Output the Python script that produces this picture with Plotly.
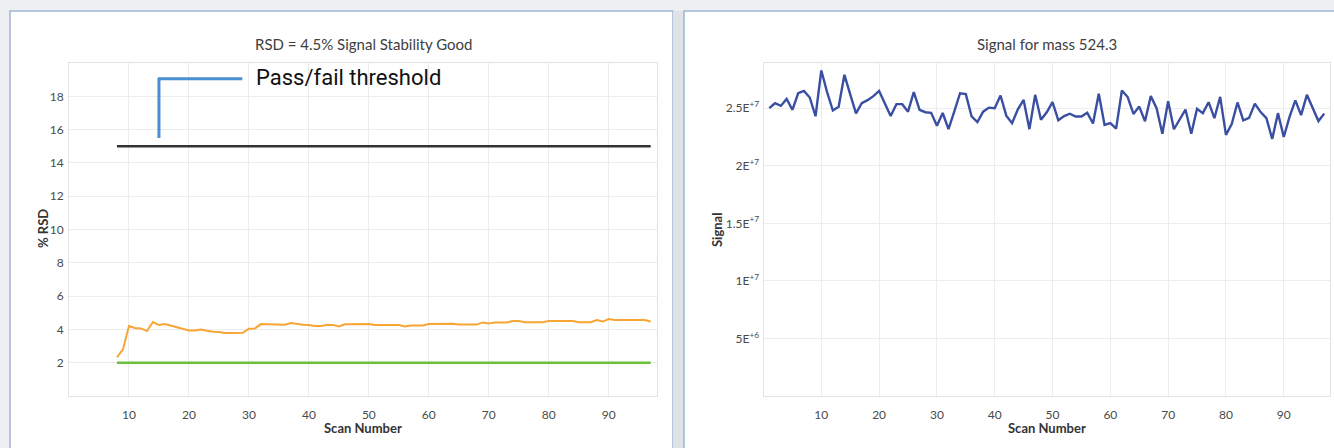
import plotly.graph_objects as go

# ---------------- data ----------------
rsd_scans = list(range(8, 98))
rsd_values = [2.32, 2.8, 4.2, 4.08, 4.06, 3.9, 4.44, 4.26, 4.32, 4.22,
              4.14, 4.02, 3.94, 3.93, 4.0, 3.92, 3.86, 3.85, 3.79, 3.79,
              3.79, 3.8, 4.04, 4.06, 4.32, 4.3, 4.29, 4.26, 4.28, 4.38,
              4.31, 4.28, 4.27, 4.2, 4.2, 4.27, 4.27, 4.18, 4.31, 4.32,
              4.32, 4.32, 4.32, 4.27, 4.26, 4.26, 4.26, 4.26, 4.17, 4.24,
              4.24, 4.24, 4.33, 4.34, 4.34, 4.34, 4.34, 4.29, 4.29, 4.29,
              4.29, 4.42, 4.35, 4.42, 4.42, 4.42, 4.5, 4.5, 4.43, 4.43,
              4.43, 4.43, 4.5, 4.5, 4.5, 4.5, 4.5, 4.43, 4.43, 4.43,
              4.56, 4.47, 4.62, 4.57, 4.57, 4.57, 4.57, 4.57, 4.56, 4.48]
threshold_value = 15
baseline_value = 2

signal_scans = list(range(1, 98))
signal_millions = [25.0, 25.43, 25.2, 25.81, 24.86, 26.3, 26.5, 25.93, 24.3, 28.28,
                   26.4, 24.8, 25.12, 27.9, 26.2, 24.55, 25.43, 25.7, 26.05, 26.5,
                   25.4, 24.32, 25.35, 25.35, 24.7, 26.4, 24.85, 24.65, 24.6, 23.48,
                   24.58, 23.18, 24.7, 26.3, 26.22, 24.28, 23.8, 24.7, 25.05, 25.0,
                   26.1, 24.35, 23.7, 24.9, 25.72, 23.18, 26.16, 23.99, 24.65, 25.52,
                   23.95, 24.32, 24.52, 24.28, 24.28, 24.6, 23.67, 26.25, 23.55, 23.7,
                   23.22, 26.54, 25.97, 24.5, 25.14, 23.87, 26.05, 25.0, 22.78, 25.6,
                   23.17, 24.02, 24.88, 22.78, 24.95, 24.57, 25.52, 24.13, 25.98, 22.68,
                   23.62, 25.5, 23.95, 24.16, 25.4, 24.66, 24.13, 22.32, 24.57, 22.5,
                   24.25, 25.68, 24.4, 26.16, 25.0, 23.88, 24.53]
signal_values = [v * 1e6 for v in signal_millions]

x_ticks = [10, 20, 30, 40, 50, 60, 70, 80, 90]
rsd_ticks = [2, 4, 6, 8, 10, 12, 14, 16, 18]
signal_tickvals = [5e6, 1e7, 1.5e7, 2e7, 2.5e7]
signal_ticktext = ["5E<sup>+6</sup>", "1E<sup>+7</sup>", "1.5E<sup>+7</sup>",
                   "2E<sup>+7</sup>", "2.5E<sup>+7</sup>"]

left_title = "RSD = 4.5% Signal Stability Good"
right_title = "Signal for mass 524.3"

# ---------------- layout helpers ----------------
W, H = 1334, 448
def px(x):
    return x / W
def py(y):
    return 1 - y / H

FONT = "Lato"
TICK_COLOR = "#4a4a4a"
GRID = "#ececec"
EDGE = "#e2e2e2"
PAGE_BG = "#eef0f3"

fig = go.Figure()

fig.add_trace(go.Scatter(x=rsd_scans, y=[threshold_value] * len(rsd_scans), mode="lines",
                         line=dict(color="#333333", width=2.5), xaxis="x", yaxis="y",
                         showlegend=False, hoverinfo="skip"))
fig.add_trace(go.Scatter(x=rsd_scans, y=[baseline_value] * len(rsd_scans), mode="lines",
                         line=dict(color="#6cbf3c", width=2.5), xaxis="x", yaxis="y",
                         showlegend=False, hoverinfo="skip"))
fig.add_trace(go.Scatter(x=rsd_scans, y=rsd_values, mode="lines",
                         line=dict(color="#f7a535", width=2), xaxis="x", yaxis="y",
                         showlegend=False))
fig.add_trace(go.Scatter(x=signal_scans, y=signal_values, mode="lines",
                         line=dict(color="#3a4ea2", width=2.4), xaxis="x2", yaxis="y2",
                         showlegend=False))

axis_common = dict(showgrid=True, gridcolor=GRID, gridwidth=1, zeroline=False,
                   showline=True, linecolor=EDGE, linewidth=1, mirror=True,
                   ticks="", tickfont=dict(family=FONT, size=12, color=TICK_COLOR))

fig.update_layout(
    width=W, height=H,
    margin=dict(l=0, r=0, t=0, b=0),
    paper_bgcolor=PAGE_BG,
    plot_bgcolor="white",
    showlegend=False,
    xaxis=dict(domain=[px(69), px(656.7)], range=[0, 98], tickvals=x_ticks,
               anchor="y", ticklabelstandoff=8, **axis_common),
    yaxis=dict(domain=[py(396), py(63)], range=[0, 20], tickvals=rsd_ticks + [20],
               ticktext=[str(t) for t in rsd_ticks] + [""], anchor="x",
               ticklabelstandoff=2, **axis_common),
    xaxis2=dict(domain=[px(763.5), px(1330)], range=[0, 98], tickvals=x_ticks,
                anchor="y2", ticklabelstandoff=8, **axis_common),
    yaxis2=dict(domain=[py(396), py(63.3)], range=[0, 2.89e7], tickvals=signal_tickvals,
                ticktext=signal_ticktext, anchor="x2", ticklabelstandoff=1, **axis_common),
)

# panel backgrounds
panel_line = dict(color="#9fb5d1", width=1.5)
fig.add_shape(type="rect", xref="paper", yref="paper", x0=px(10), x1=px(673),
              y0=py(460), y1=py(11), fillcolor="white", line=panel_line, layer="below")
fig.add_shape(type="rect", xref="paper", yref="paper", x0=px(673), x1=px(684),
              y0=py(460), y1=py(11), fillcolor="#dfe2e6", line=dict(width=0), layer="below")
fig.add_shape(type="rect", xref="paper", yref="paper", x0=px(684), x1=px(1345),
              y0=py(460), y1=py(11), fillcolor="white", line=panel_line, layer="below")

# pass/fail callout bracket
callout_x, callout_y0, callout_y1, callout_x1 = 15, 15.5, 19.05, 28.9
bracket = dict(color="#4a8fd0", width=3)
fig.add_shape(type="line", xref="x", yref="y", x0=callout_x, x1=callout_x,
              y0=callout_y0, y1=callout_y1, line=bracket)
fig.add_shape(type="line", xref="x", yref="y", x0=callout_x - 0.2, x1=callout_x1,
              y0=callout_y1, y1=callout_y1, line=bracket)
fig.add_annotation(x=30.9, y=19.15, xref="x", yref="y", text="Pass/fail threshold",
                   showarrow=False, xanchor="left", yanchor="middle",
                   font=dict(family="Roboto", size=22, color="#111111"))

# titles
title_font = dict(family=FONT, size=15, color="#404040")
fig.add_annotation(x=px(363), y=py(44), xref="paper", yref="paper", text=left_title,
                   showarrow=False, xanchor="center", yanchor="middle", font=title_font)
fig.add_annotation(x=px(1046.5), y=py(44), xref="paper", yref="paper", text=right_title,
                   showarrow=False, xanchor="center", yanchor="middle", font=title_font)

# axis titles
label_font = dict(family=FONT, size=13, color="#333333")
fig.add_annotation(x=px(363), y=py(428), xref="paper", yref="paper", text="<b>Scan Number</b>",
                   showarrow=False, xanchor="center", yanchor="middle", font=label_font)
fig.add_annotation(x=px(1047), y=py(428), xref="paper", yref="paper", text="<b>Scan Number</b>",
                   showarrow=False, xanchor="center", yanchor="middle", font=label_font)
fig.add_annotation(x=px(43), y=py(229), xref="paper", yref="paper", text="<b>% RSD</b>",
                   textangle=-90, showarrow=False, xanchor="center", yanchor="middle",
                   font=label_font)
fig.add_annotation(x=px(717), y=py(230), xref="paper", yref="paper", text="<b>Signal</b>",
                   textangle=-90, showarrow=False, xanchor="center", yanchor="middle",
                   font=label_font)

page_css = ("document.body.style.margin='0';"
            "document.body.style.background='%s';" % PAGE_BG)
fig.write_html("out.html", post_script=page_css, config={"displayModeBar": False})
